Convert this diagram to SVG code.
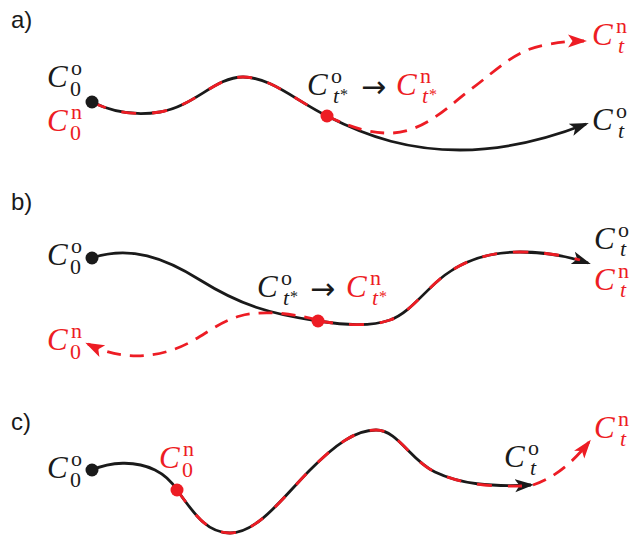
<svg xmlns="http://www.w3.org/2000/svg" width="644" height="536" viewBox="0 0 644 536">
<style>
.blk{fill:#1a1a1a}
.red{fill:#ed1c24}
.L{font-family:"Liberation Serif","Times New Roman",serif;font-size:22px}
.C{font-style:italic;font-size:31px}
.i{font-style:italic}
.st{font-size:16px}
.ar{font-family:"DejaVu Sans",sans-serif;font-size:30px;fill:#1a1a1a}
.pl{font-family:"Liberation Sans",Arial,sans-serif;font-size:24px;fill:#1a1a1a}
.bl{fill:none;stroke:#1a1a1a;stroke-width:2.8}
.rd{fill:none;stroke:#ed1c24;stroke-width:2.8;stroke-dasharray:14 9}
.ov{fill:none;stroke:#ed1c24;stroke-width:2.8;stroke-dasharray:15 16}
</style>
<defs>
<marker id="ab" markerUnits="userSpaceOnUse" markerWidth="19" markerHeight="16" viewBox="0 0 19 16" refX="16" refY="8" orient="auto">
<path d="M0,1.5 L19,8 L0,14.5 L4.5,8 z" fill="#1a1a1a"/>
</marker>
<marker id="ar" markerUnits="userSpaceOnUse" markerWidth="19" markerHeight="16" viewBox="0 0 19 16" refX="16" refY="8" orient="auto">
<path d="M0,1.5 L19,8 L0,14.5 L4.5,8 z" fill="#ed1c24"/>
</marker>
</defs>

<text class="pl" x="11" y="28">a)</text>
<text class="pl" x="11" y="210">b)</text>
<text class="pl" x="11" y="430">c)</text>

<g id="connectors">
<!-- panel a -->
<path class="bl" marker-end="url(#ab)" d="M92,102 C112,112 135,116 160,112 C195,106 215,77 243,77 C270,77 295,100 327,116 C370,138 410,150 460,150 C510,150 555,136 586,124"/>
<path class="ov" d="M92,102 C112,112 135,116 160,112 C195,106 215,77 243,77 C270,77 295,100 327,116"/>
<path class="rd" marker-end="url(#ar)" d="M327,116 C352,128 372,134 393,133 C425,131 450,105 470,90 C497,70 515,50 545,45 C560,42 572,41 584,41"/>
<!-- panel b -->
<path class="bl" d="M92,258 C130,245 165,258 200,280 C240,305 270,314 318,321"/>
<path class="bl" marker-end="url(#ab)" d="M318,321 C345,325 370,327 390,320 C410,313 425,290 445,275 C465,260 490,252 520,252 C548,252 570,257 588,263"/>
<path class="ov" d="M318,321 C345,325 370,327 390,320 C410,313 425,290 445,275 C465,260 490,252 520,252 C548,252 570,257 580,260"/>
<path class="rd" marker-end="url(#ar)" d="M318,320 C290,313 262,310 240,316 C215,323 200,340 175,349 C150,358 120,360 88,344"/>
<!-- panel c -->
<path class="bl" d="M92,470 C110,462 135,460 155,470 C165,475 172,482 177,490"/>
<path class="bl" marker-end="url(#ab)" d="M177,490 C192,510 205,533 230,533 C258,533 285,495 310,470 C335,445 355,430 376,430 C398,430 410,460 435,472 C460,484 490,487 531,485"/>
<path class="ov" d="M177,490 C192,510 205,533 230,533 C258,533 285,495 310,470 C335,445 355,430 376,430 C398,430 410,460 435,472 C460,484 490,487 522,486"/>
<path class="rd" marker-end="url(#ar)" d="M533,485 C555,478 575,460 589,442"/>
</g>

<!-- panel a nodes -->
<g id="a-C0">
<circle class="blk" cx="92" cy="102" r="6.5"/>
<text class="L blk" x="47" y="87"><tspan class="C">C</tspan><tspan x="71" y="75">o</tspan><tspan x="70" y="96">0</tspan></text>
<text class="L red" x="47" y="131"><tspan class="C">C</tspan><tspan x="71" y="119">n</tspan><tspan x="70" y="140">0</tspan></text>
</g>
<g id="a-Ctstar">
<circle class="red" cx="327" cy="116" r="6.5"/>
<text class="L blk" x="307" y="95"><tspan class="C">C</tspan><tspan x="331" y="83">o</tspan><tspan class="i" x="333" y="103">t</tspan><tspan class="st" x="340" y="100">*</tspan></text>
<text class="ar" x="361" y="97">→</text>
<text class="L red" x="396" y="95"><tspan class="C">C</tspan><tspan x="420" y="83">n</tspan><tspan class="i" x="422" y="103">t</tspan><tspan class="st" x="429" y="100">*</tspan></text>
</g>
<g id="a-Ctn"><text class="L red" x="592" y="45"><tspan class="C">C</tspan><tspan x="616" y="33">n</tspan><tspan class="i" x="618" y="53">t</tspan></text></g>
<g id="a-Cto"><text class="L blk" x="592" y="130"><tspan class="C">C</tspan><tspan x="616" y="118">o</tspan><tspan class="i" x="618" y="138">t</tspan></text></g>

<!-- panel b nodes -->
<g id="b-C0o">
<circle class="blk" cx="92" cy="258" r="6.5"/>
<text class="L blk" x="47" y="265"><tspan class="C">C</tspan><tspan x="71" y="253">o</tspan><tspan x="70" y="274">0</tspan></text>
</g>
<g id="b-C0n"><text class="L red" x="47" y="350"><tspan class="C">C</tspan><tspan x="71" y="338">n</tspan><tspan x="70" y="359">0</tspan></text></g>
<g id="b-Ctstar">
<circle class="red" cx="318" cy="321" r="6.5"/>
<text class="L blk" x="257" y="297"><tspan class="C">C</tspan><tspan x="281" y="285">o</tspan><tspan class="i" x="283" y="305">t</tspan><tspan class="st" x="290" y="302">*</tspan></text>
<text class="ar" x="310" y="299">→</text>
<text class="L red" x="346" y="297"><tspan class="C">C</tspan><tspan x="370" y="285">n</tspan><tspan class="i" x="372" y="305">t</tspan><tspan class="st" x="379" y="302">*</tspan></text>
</g>
<g id="b-Ct">
<text class="L blk" x="594" y="249"><tspan class="C">C</tspan><tspan x="618" y="237">o</tspan><tspan class="i" x="620" y="256">t</tspan></text>
<text class="L red" x="594" y="290"><tspan class="C">C</tspan><tspan x="618" y="278">n</tspan><tspan class="i" x="620" y="297">t</tspan></text>
</g>

<!-- panel c nodes -->
<g id="c-C0o">
<circle class="blk" cx="92" cy="470" r="6.5"/>
<text class="L blk" x="47" y="478"><tspan class="C">C</tspan><tspan x="71" y="466">o</tspan><tspan x="70" y="487">0</tspan></text>
</g>
<g id="c-C0n">
<circle class="red" cx="177" cy="490" r="6.5"/>
<text class="L red" x="159" y="468"><tspan class="C">C</tspan><tspan x="183" y="456">n</tspan><tspan x="182" y="477">0</tspan></text>
</g>
<g id="c-Cto"><text class="L blk" x="504" y="467"><tspan class="C">C</tspan><tspan x="528" y="455">o</tspan><tspan class="i" x="530" y="475">t</tspan></text></g>
<g id="c-Ctn"><text class="L red" x="594" y="438"><tspan class="C">C</tspan><tspan x="618" y="426">n</tspan><tspan class="i" x="620" y="446">t</tspan></text></g>
</svg>
